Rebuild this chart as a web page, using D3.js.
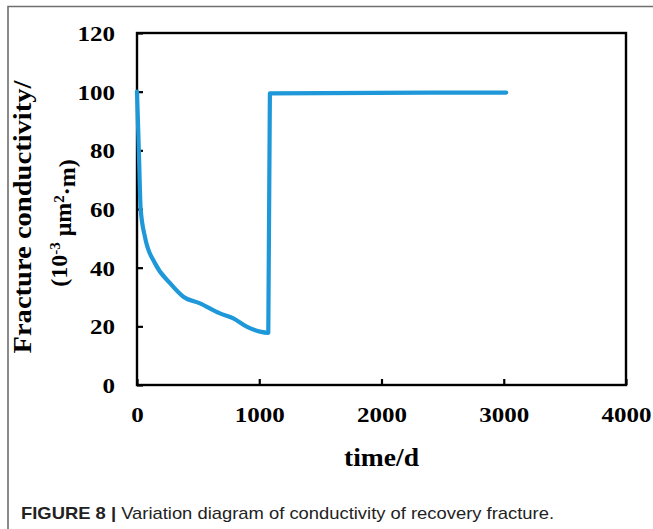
<!DOCTYPE html>
<html>
<head>
<meta charset="utf-8">
<script src="https://cdn.jsdelivr.net/npm/d3@7"></script>
<style>
  html, body { margin: 0; padding: 0; background: #fff; }
  svg { display: block; }
</style>
</head>
<body>
<script>
// ---- data ----
const timeDays = [0, 15, 30, 65, 147, 270, 379, 515, 679, 788, 897, 1006, 1074, 1087, 3020];
const conductivity = [100, 80, 60, 50.5, 41.5, 34.7, 30.1, 27.8, 24.4, 22.7, 19.9, 18.2, 17.8, 99.4, 99.7];
const xTicks = [0, 1000, 2000, 3000, 4000];
const yTicks = [0, 20, 40, 60, 80, 100, 120];
const xTitle = "time/d";
const yTitleLine1 = "Fracture conductivity/";
const captionBold = "FIGURE 8 |";
const captionText = " Variation diagram of conductivity of recovery fracture.";

const W = 653, H = 529;
const plot = { left: 137, top: 33, right: 626, bottom: 385 };

const svg = d3.select("body").append("svg").attr("width", W).attr("height", H);

// outer frame (gray, top and left)
svg.append("path")
  .attr("d", `M8,${H} L8,6.5 L${W},6.5`)
  .attr("fill", "none").attr("stroke", "#6f6f6f").attr("stroke-width", 1.6);

const x = d3.scaleLinear().domain([0, 4000]).range([plot.left, plot.right]);
const y = d3.scaleLinear().domain([0, 120]).range([plot.bottom, plot.top]);

const serif = "'Liberation Serif', 'Times New Roman', serif";
const digitW = 12.5;

// y axis (ticks inward)
const yAxis = svg.append("g").attr("transform", `translate(${plot.left},0)`)
  .call(d3.axisLeft(y).tickValues(yTicks).tickSize(-6).tickPadding(22).tickFormat(d3.format("d")));
// x axis (ticks inward)
const xAxis = svg.append("g").attr("transform", `translate(0,${plot.bottom})`)
  .call(d3.axisBottom(x).tickValues(xTicks).tickSize(-6).tickPadding(22).tickFormat(d3.format("d")));

[yAxis, xAxis].forEach(g => {
  g.select(".domain").remove();
  g.selectAll(".tick line").attr("stroke", "#000").attr("stroke-width", 2.2);
  g.selectAll(".tick text")
    .attr("fill", "#000")
    .style("font-family", serif)
    .style("font-weight", "bold")
    .style("font-size", "21px")
    .attr("textLength", d => String(d).length * digitW)
    .attr("lengthAdjust", "spacingAndGlyphs");
});
yAxis.selectAll(".tick text").attr("dy", "0.35em");

// plot box
svg.append("rect")
  .attr("x", plot.left).attr("y", plot.top)
  .attr("width", plot.right - plot.left).attr("height", plot.bottom - plot.top)
  .attr("fill", "none").attr("stroke", "#000").attr("stroke-width", 2.4);

// data line
const pts = timeDays.map((t, i) => [t, conductivity[i]]);
svg.append("path")
  .datum(pts)
  .attr("d", d3.line().x(d => x(d[0])).y(d => y(d[1])).curve(d3.curveMonotoneX))
  .attr("fill", "none")
  .attr("stroke", "#1e98d8")
  .attr("stroke-width", 4.2)
  .attr("stroke-linejoin", "round")
  .attr("stroke-linecap", "round");

// x title
svg.append("text")
  .attr("x", (plot.left + plot.right) / 2).attr("y", 466)
  .attr("text-anchor", "middle")
  .style("font-family", serif).style("font-weight", "bold").style("font-size", "25px")
  .attr("textLength", 75).attr("lengthAdjust", "spacingAndGlyphs")
  .text(xTitle);

// y title (two lines, rotated)
svg.append("text")
  .attr("transform", `translate(31,217) rotate(-90)`)
  .attr("text-anchor", "middle")
  .style("font-family", serif).style("font-weight", "bold").style("font-size", "25px")
  .attr("textLength", 273).attr("lengthAdjust", "spacingAndGlyphs")
  .text(yTitleLine1);
const l2 = svg.append("text")
  .attr("transform", `translate(67,223) rotate(-90)`)
  .attr("text-anchor", "middle")
  .style("font-family", serif).style("font-weight", "bold").style("font-size", "24px");
l2.append("tspan").text("(10");
l2.append("tspan").attr("dy", "-0.45em").style("font-size", "15px").text("-3");
l2.append("tspan").attr("dy", "0.45em").text(" μm");
l2.append("tspan").attr("dy", "-0.45em").style("font-size", "15px").text("2");
l2.append("tspan").attr("dy", "0.45em").text("·m)");

// caption
const cap = svg.append("text")
  .attr("x", 21).attr("y", 519)
  .style("font-family", "'Liberation Sans', Arial, sans-serif").style("font-size", "17px").attr("fill", "#222")
  .attr("textLength", 533).attr("lengthAdjust", "spacingAndGlyphs");
cap.append("tspan").style("font-weight", "bold").text(captionBold);
cap.append("tspan").text(captionText);
</script>
</body>
</html>
